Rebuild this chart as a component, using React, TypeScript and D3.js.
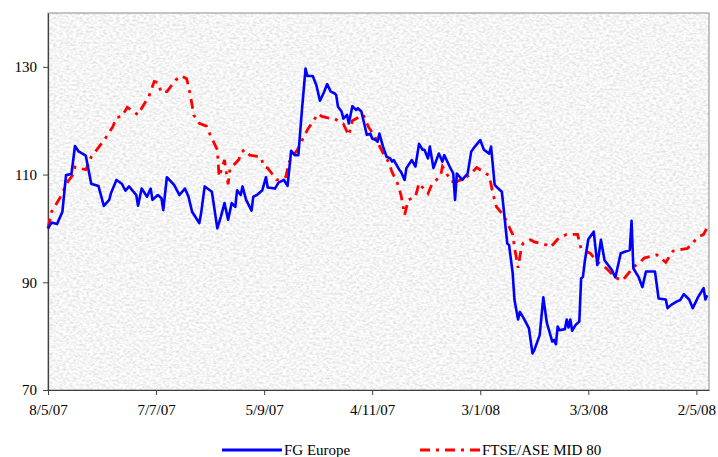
import React, { useEffect, useRef } from "react";
import * as d3 from "d3";

// FG Europe (blue, solid)
const fgDates = [
  "2007-05-08", "2007-05-10", "2007-05-13", "2007-05-16", "2007-05-18", "2007-05-21", "2007-05-23", "2007-05-25", "2007-05-29",
  "2007-06-01", "2007-06-05", "2007-06-08", "2007-06-11", "2007-06-12", "2007-06-15", "2007-06-18", "2007-06-20", "2007-06-22",
  "2007-06-26", "2007-06-27", "2007-06-29", "2007-07-02", "2007-07-04", "2007-07-05", "2007-07-08", "2007-07-10", "2007-07-11",
  "2007-07-13", "2007-07-17", "2007-07-20", "2007-07-23", "2007-07-25", "2007-07-27", "2007-07-31", "2007-08-01", "2007-08-03",
  "2007-08-07", "2007-08-10", "2007-08-12", "2007-08-14", "2007-08-16", "2007-08-18", "2007-08-20", "2007-08-21", "2007-08-23",
  "2007-08-24", "2007-08-26", "2007-08-29", "2007-08-30", "2007-09-01", "2007-09-04", "2007-09-06", "2007-09-07", "2007-09-11",
  "2007-09-13", "2007-09-16", "2007-09-18", "2007-09-20", "2007-09-22", "2007-09-24", "2007-09-26", "2007-09-28", "2007-09-29",
  "2007-10-02", "2007-10-04", "2007-10-06", "2007-10-08", "2007-10-10", "2007-10-12", "2007-10-14", "2007-10-15", "2007-10-16",
  "2007-10-18", "2007-10-19", "2007-10-21", "2007-10-22", "2007-10-24", "2007-10-26", "2007-10-27", "2007-10-29", "2007-11-01",
  "2007-11-03", "2007-11-04", "2007-11-06", "2007-11-07", "2007-11-08", "2007-11-10", "2007-11-12", "2007-11-14", "2007-11-15",
  "2007-11-16", "2007-11-19", "2007-11-20", "2007-11-22", "2007-11-23", "2007-11-26", "2007-11-28", "2007-11-30", "2007-12-02",
  "2007-12-03", "2007-12-05", "2007-12-06", "2007-12-08", "2007-12-10", "2007-12-11", "2007-12-13", "2007-12-14", "2007-12-17",
  "2007-12-19", "2007-12-20", "2007-12-21", "2007-12-24", "2007-12-27", "2007-12-29", "2007-12-31", "2008-01-03", "2008-01-05",
  "2008-01-08", "2008-01-09", "2008-01-11", "2008-01-13", "2008-01-15", "2008-01-18", "2008-01-19", "2008-01-21", "2008-01-22",
  "2008-01-24", "2008-01-25", "2008-01-27", "2008-01-30", "2008-02-01", "2008-02-02", "2008-02-05", "2008-02-07", "2008-02-09",
  "2008-02-12", "2008-02-13", "2008-02-14", "2008-02-15", "2008-02-16", "2008-02-19", "2008-02-20", "2008-02-21", "2008-02-22",
  "2008-02-23", "2008-02-25", "2008-02-27", "2008-02-28", "2008-02-29", "2008-03-01", "2008-03-03", "2008-03-06", "2008-03-08",
  "2008-03-10", "2008-03-12", "2008-03-16", "2008-03-18", "2008-03-21", "2008-03-26", "2008-03-27", "2008-03-28", "2008-03-31",
  "2008-04-02", "2008-04-04", "2008-04-09", "2008-04-11", "2008-04-15", "2008-04-16", "2008-04-18", "2008-04-21", "2008-04-23",
  "2008-04-25", "2008-04-28", "2008-04-30", "2008-05-03", "2008-05-06", "2008-05-07", "2008-05-08",
];
const fgValues = [
  100.0, 101.1, 100.8, 103.1, 109.9, 110.1, 115.3, 114.3, 113.5,
  108.3, 107.9, 104.2, 105.3, 106.6, 109.0, 108.3, 107.0, 107.8,
  106.2, 104.2, 107.4, 105.9, 107.4, 105.3, 106.2, 105.6, 103.4,
  109.5, 108.1, 106.2, 107.4, 105.9, 103.1, 101.0, 102.8, 107.8,
  106.8, 100.0, 102.2, 104.7, 101.6, 104.7, 104.0, 107.1, 106.2,
  107.8, 105.3, 103.3, 105.9, 106.2, 107.1, 109.5, 107.6, 107.4,
  108.5, 109.0, 107.9, 114.4, 113.6, 113.6, 122.0, 129.7, 128.3,
  128.3, 126.6, 123.7, 125.1, 126.8, 125.4, 125.1, 124.8, 122.6,
  121.7, 120.4, 121.1, 119.5, 122.7, 122.0, 122.3, 121.7, 117.4,
  117.6, 116.7, 116.4, 116.1, 117.6, 115.2, 113.3, 113.0, 112.4,
  112.7, 110.9, 110.5, 109.0, 111.2, 112.7, 111.5, 115.7, 114.6,
  114.6, 113.0, 115.2, 111.2, 113.0, 113.9, 112.4, 113.6, 111.5,
  110.2, 105.3, 110.2, 109.0, 110.2, 114.3, 115.2, 116.4, 114.6,
  113.9, 115.2, 108.1, 107.4, 106.8, 97.2, 96.9, 91.7, 86.7,
  83.1, 84.5, 83.4, 81.5, 76.8, 77.4, 80.2, 87.2, 82.4,
  79.0, 79.3, 78.5, 81.8, 81.1, 81.3, 83.1, 81.6, 83.1,
  81.0, 82.1, 82.7, 90.7, 91.0, 93.8, 98.0, 99.4, 93.2,
  97.9, 94.1, 92.3, 90.9, 95.4, 96.0, 101.4, 92.6, 90.9,
  89.1, 92.0, 92.0, 87.0, 86.8, 85.2, 85.8, 86.4, 86.7,
  87.8, 86.8, 85.2, 87.3, 88.9, 86.8, 87.6,
];

// FTSE/ASE MID 80 (red, dash-dot)
const midDates = [
  "2007-05-08", "2007-05-10", "2007-05-15", "2007-05-19", "2007-05-22", "2007-05-23", "2007-05-29", "2007-06-01", "2007-06-05",
  "2007-06-09", "2007-06-13", "2007-06-15", "2007-06-18", "2007-06-21", "2007-06-27", "2007-06-29", "2007-07-03", "2007-07-06",
  "2007-07-08", "2007-07-10", "2007-07-13", "2007-07-18", "2007-07-21", "2007-07-24", "2007-07-26", "2007-07-28", "2007-07-31",
  "2007-08-04", "2007-08-06", "2007-08-10", "2007-08-11", "2007-08-14", "2007-08-16", "2007-08-17", "2007-08-22", "2007-08-23",
  "2007-08-25", "2007-08-28", "2007-09-03", "2007-09-05", "2007-09-07", "2007-09-12", "2007-09-17", "2007-09-19", "2007-09-24",
  "2007-09-27", "2007-09-29", "2007-10-02", "2007-10-05", "2007-10-07", "2007-10-11", "2007-10-14", "2007-10-16", "2007-10-19",
  "2007-10-22", "2007-10-24", "2007-10-30", "2007-11-02", "2007-11-05", "2007-11-10", "2007-11-13", "2007-11-15", "2007-11-18",
  "2007-11-20", "2007-11-22", "2007-11-24", "2007-11-28", "2007-11-30", "2007-12-03", "2007-12-05", "2007-12-07", "2007-12-12",
  "2007-12-13", "2007-12-18", "2007-12-21", "2007-12-25", "2007-12-28", "2008-01-01", "2008-01-08", "2008-01-10", "2008-01-12",
  "2008-01-16", "2008-01-21", "2008-01-22", "2008-01-24", "2008-01-26", "2008-01-27", "2008-01-31", "2008-02-02", "2008-02-09",
  "2008-02-11", "2008-02-15", "2008-02-20", "2008-02-26", "2008-02-28", "2008-03-04", "2008-03-08", "2008-03-13", "2008-03-18",
  "2008-03-22", "2008-03-28", "2008-04-01", "2008-04-03", "2008-04-10", "2008-04-15", "2008-04-19", "2008-04-27", "2008-05-03",
  "2008-05-06", "2008-05-08",
];
const midValues = [
  100.0, 103.1, 105.9, 108.7, 110.0, 111.4, 110.9, 113.3, 115.0,
  116.8, 118.9, 120.6, 120.8, 122.5, 121.1, 122.3, 124.5, 127.3,
  127.1, 125.2, 125.4, 127.6, 128.3, 127.8, 124.8, 121.0, 119.5,
  119.0, 117.4, 114.6, 109.6, 112.7, 108.2, 111.0, 112.8, 114.0,
  114.6, 113.6, 113.3, 111.5, 111.2, 109.0, 109.6, 112.4, 114.9,
  117.0, 118.3, 119.8, 121.3, 120.8, 120.5, 120.4, 120.0, 119.4,
  117.3, 120.0, 121.1, 118.8, 117.3, 114.0, 112.4, 110.5, 108.4,
  106.2, 102.5, 105.3, 105.9, 108.4, 107.2, 106.5, 108.1, 109.8,
  111.5, 108.7, 108.7, 109.3, 109.9, 111.3, 109.8, 106.5, 104.0,
  102.4, 98.9, 96.5, 92.7, 96.8, 97.3, 97.9, 97.5, 96.9,
  96.5, 98.0, 98.9, 98.9, 96.2, 95.4, 93.8, 92.6, 90.9,
  90.3, 92.8, 93.8, 94.5, 95.1, 93.7, 95.8, 96.3, 98.4,
  98.9, 100.2,
];

const yTicks = [70, 90, 110, 130];
const xTickDates = ["2007-05-08", "2007-07-07", "2007-09-05", "2007-11-04", "2008-01-03", "2008-03-03", "2008-05-02"];
const seriesNames = ["FG Europe", "FTSE/ASE MID 80"];

const W = 718;
const H = 457;
const FONT = "'Liberation Serif', 'Times New Roman', serif";
const DASH = "10,6,3,6";

const App: React.FC = () => {
  const ref = useRef<SVGSVGElement | null>(null);

  useEffect(() => {
    const svg = d3.select(ref.current);
    svg.selectAll("*").remove();

    const parse = d3.timeParse("%Y-%m-%d");
    const fmt = d3.timeFormat("%-d/%-m/%y");
    const left = 48, right = 709, top = 13, bottom = 390;

    const x = d3
      .scaleTime()
      .domain([parse("2007-05-08") as Date, parse("2008-05-09") as Date])
      .range([left, right]);
    const y = d3.scaleLinear().domain([70, 140]).range([bottom, top]);

    // speckled grey texture for the plot area
    const defs = svg.append("defs");
    const filt = defs
      .append("filter")
      .attr("id", "noise")
      .attr("x", 0)
      .attr("y", 0)
      .attr("width", "100%")
      .attr("height", "100%");
    filt
      .append("feTurbulence")
      .attr("type", "fractalNoise")
      .attr("baseFrequency", "0.3 0.45")
      .attr("numOctaves", 3)
      .attr("seed", 7);
    filt
      .append("feColorMatrix")
      .attr("type", "matrix")
      .attr("values", "0.5 0 0 0 0.66  0.5 0 0 0 0.66  0.5 0 0 0 0.66  0 0 0 0 1");

    svg
      .append("rect")
      .attr("x", left)
      .attr("y", top)
      .attr("width", right - left)
      .attr("height", bottom - top)
      .attr("fill", "#e6e6e6")
      .attr("filter", "url(#noise)");
    svg
      .append("rect")
      .attr("x", left)
      .attr("y", top)
      .attr("width", right - left)
      .attr("height", bottom - top)
      .attr("fill", "none")
      .attr("stroke", "#8c8c8c")
      .attr("stroke-width", 1);

    // axes
    const yAxis = svg
      .append("g")
      .attr("transform", `translate(${left},0)`)
      .call(d3.axisLeft(y).tickValues(yTicks).tickSize(5).tickSizeOuter(0).tickPadding(6));
    const xAxis = svg
      .append("g")
      .attr("transform", `translate(0,${bottom})`)
      .call(
        d3
          .axisBottom(x)
          .tickValues(xTickDates.map((d) => parse(d) as Date))
          .tickFormat((d) => fmt(d as Date))
          .tickSize(5)
          .tickSizeOuter(0)
          .tickPadding(9)
      );
    [yAxis, xAxis].forEach((g) => {
      g.select(".domain").attr("stroke", "#404040").attr("stroke-width", 1.2);
      g.selectAll(".tick line").attr("stroke", "#404040");
      g.selectAll(".tick text")
        .attr("fill", "#000")
        .style("font-family", FONT)
        .style("font-size", "15px");
    });

    const line = d3
      .line<[Date, number]>()
      .x((d) => x(d[0]))
      .y((d) => y(d[1]));

    const fgData: [Date, number][] = fgDates.map((d, i) => [parse(d) as Date, fgValues[i]]);
    const midData: [Date, number][] = midDates.map((d, i) => [parse(d) as Date, midValues[i]]);

    svg
      .append("path")
      .datum(midData)
      .attr("fill", "none")
      .attr("stroke", "#ff0000")
      .attr("stroke-width", 2.8)
      .attr("stroke-dasharray", DASH)
      .attr("d", line);

    svg
      .append("path")
      .datum(fgData)
      .attr("fill", "none")
      .attr("stroke", "#0000ff")
      .attr("stroke-width", 2.6)
      .attr("stroke-linejoin", "round")
      .attr("d", line);

    // legend
    const legend = svg.append("g");
    const items = [
      { name: seriesNames[0], color: "#0000ff", dash: null, x0: 222 },
      { name: seriesNames[1], color: "#ff0000", dash: DASH, x0: 420 },
    ];
    items.forEach((it) => {
      legend
        .append("line")
        .attr("x1", it.x0)
        .attr("x2", it.x0 + 60)
        .attr("y1", 450)
        .attr("y2", 450)
        .attr("stroke", it.color)
        .attr("stroke-width", 3)
        .attr("stroke-dasharray", it.dash);
      legend
        .append("text")
        .attr("x", it.x0 + 62)
        .attr("y", 455)
        .style("font-family", FONT)
        .style("font-size", "15px")
        .text(it.name);
    });
  }, []);

  return (
    <svg
      ref={ref}
      width={W}
      height={H}
      style={{ position: "absolute", left: 0, top: 0, background: "#fff" }}
    ></svg>
  );
};

export default App;
